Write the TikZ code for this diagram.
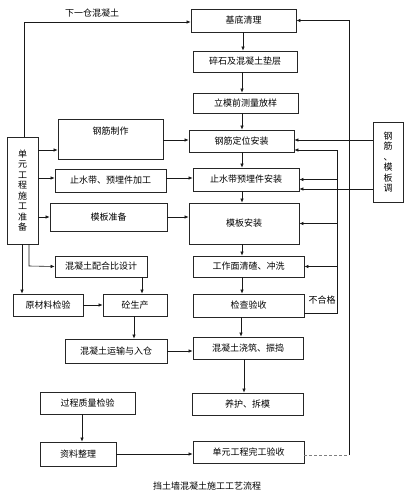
\documentclass[tikz,border=0pt]{standalone}
\usepackage{fontspec}
\newfontfamily\cjk{Noto Sans CJK SC}
\usetikzlibrary{positioning}
\usetikzlibrary{arrows.meta}
\tikzset{
    box/.style = {rectangle, draw=black!85, line width=0.8pt, inner sep=0pt, align=center, font=\cjk\fontsize{9}{10.5}\selectfont},
    vbox/.style = {box, font=\cjk\fontsize{9}{10.5}\selectfont},
    edgen/.style = {-{Latex[length=4pt,width=3.5pt]}, line width=0.6pt, black!90},
    lineg/.style = {line width=0.6pt, black!90},
    lined/.style = {line width=0.5pt, gray, densely dashed},
    txt/.style = {font=\cjk\fontsize{9}{10.5}\selectfont, inner sep=0pt}
}
\begin{document}
\begin{tikzpicture}[x=1pt,y=-1pt]
\useasboundingbox[fill=white] (0,0) rectangle (415,500);
% main column
\node[box, minimum width=105, minimum height=23] at (243.5, 20.5) (jd) {基底清理};
\node[box, minimum width=104, minimum height=21] at (245.0, 61.5) (sz) {碎石及混凝土垫层};
\node[box, minimum width=105, minimum height=20] at (245.5,103.0) (lm) {立模前测量放样};
\node[box, minimum width=105, minimum height=22] at (241.5,141.0) (gd) {钢筋定位安装};
\node[box, minimum width=106, minimum height=23] at (246.0,179.5) (zs) {止水带预埋件安装};
\node[box, minimum width=110, minimum height=41] at (244.0,223.5) (mb) {模板安装};
\node[box, minimum width=111, minimum height=21] at (248.5,266.5) (gm) {工作面清碴、冲洗};
\node[box, minimum width=111, minimum height=23] at (248.5,305.5) (jc) {检查验收};
\node[box, minimum width=110, minimum height=22] at (248.0,348.0) (jz) {混凝土浇筑、振捣};
\node[box, minimum width=111, minimum height=22] at (247.5,404.0) (yh) {养护、拆模};
\node[box, minimum width=111, minimum height=22] at (248.5,452.0) (ys) {单元工程完工验收};
% left column
\node[vbox, minimum width=31, minimum height=107] at (22.5,190.5) (zb) {单\\元\\工\\程\\施\\工\\准\\备};
\node[box, minimum width=105, text height=12pt, text depth=21pt, inner ysep=3.5pt] at (110.5,139.5) (gj) {钢筋制作};
\node[box, minimum width=111, minimum height=23] at (110.5,180.5) (zj) {止水带、预埋件加工};
\node[box, minimum width=117, minimum height=28] at (108.5,217.0) (mz) {模板准备};
\node[box, minimum width=92, minimum height=21] at (101.0,266.5) (pb) {混凝土配合比设计};
\node[box, minimum width=70, minimum height=22] at (48.0,305.0) (yc) {原材料检验};
\node[box, minimum width=64, minimum height=22] at (135.0,305.0) (sc) {砼生产};
\node[box, minimum width=102, minimum height=24] at (116.0,351.0) (yr) {混凝土运输与入仓};
\node[box, minimum width=95, minimum height=22] at (87.5,403.0) (gc) {过程质量检验};
\node[box, minimum width=76, minimum height=24] at (78.0,454.0) (zl) {资料整理};
% right
\node[vbox, minimum width=30, minimum height=80] at (388.0,162.0) (tz) {钢\\筋\\、\\模\\板\\调};
%
\node[txt] at (92,13) (xyc) {下一仓混凝土};
\node[txt] at (322,300) (bhg) {不合格};
\node[txt] at (207,486) (bt) {挡土墙混凝土施工工艺流程};
%
\coordinate (c1) at (24,22);
\coordinate (c2) at (349,455);
\coordinate (c3) at (337,313);
\coordinate (c4) at (29,266);
\coordinate (c5) at (22,294);
% main flow
\draw[edgen] (zb.north -| c1) -- (c1) -- (jd.west |- c1);
\draw[edgen] (243,0 |- jd.south) -- (243,0 |- sz.north);
\draw[edgen] (242,0 |- sz.south) -- (242,0 |- lm.north);
\draw[edgen] (242,0 |- lm.south) -- (242,0 |- gd.north);
\draw[edgen] (242,0 |- gd.south) -- (242,0 |- zs.north);
\draw[edgen] (242,0 |- zs.south) -- (242,0 |- mb.north);
\draw[edgen] (242,0 |- mb.south) -- (242,0 |- gm.north);
\draw[edgen] (242,0 |- gm.south) -- (242,0 |- jc.north);
\draw[edgen] (241,0 |- jc.south) -- (241,0 |- jz.north);
\draw[edgen] (244,0 |- jz.south) -- (244,0 |- yh.north);
% preparation
\draw[edgen] (zb.east |- 0,150) -- (gj.west |- 0,150);
\draw[edgen] (zb.east |- 0,178) -- (zj.west |- 0,178);
\draw[edgen] (zb.east |- 0,217) -- (mz.west |- 0,217);
\draw[edgen] (gj.east |- 0,140) -- (gd.west |- 0,140);
\draw[edgen] (zj.east |- 0,178) -- (zs.west |- 0,178);
\draw[edgen] (mz.east |- 0,217) -- (mb.west |- 0,217);
\draw[edgen] (zb.south -| c4) -- (c4) -- (pb.west);
\draw[edgen] (zb.south -| c5) -- (yc.north -| c5);
\draw[edgen] (yc.east) -- (sc.west);
\draw[edgen] (142,0 |- pb.south) -- (142,0 |- sc.north);
\draw[edgen] (134,0 |- sc.south) -- (134,0 |- yr.north);
\draw[edgen] (yr.east) -- (jz.west |- yr.east);
\draw[edgen] (82,0 |- gc.south) -- (82,0 |- zl.north);
\draw[edgen] (zl.east) -- (ys.west |- zl.east);
% adjust
\draw[edgen] (tz.west |- 0,140) -- (gd.east |- 0,140);
\draw[edgen] (tz.west |- 0,189) -- (zs.east |- 0,189);
% not passed
\draw[lineg] (jc.east |- c3) -- (c3) -- (337,150);
\draw[edgen] (337,150) -- (gd.east |- 0,150);
\draw[edgen] (337,0 |- zs.east) -- (zs.east);
\draw[edgen] (337,0 |- mb.east) -- (mb.east);
\draw[edgen] (337,0 |- gm.east) -- (gm.east);
% next pour
\draw[lined] (ys.east |- c2) -- (c2);
\draw[edgen] (c2) |- (jd.east);
\end{tikzpicture}
\end{document}
